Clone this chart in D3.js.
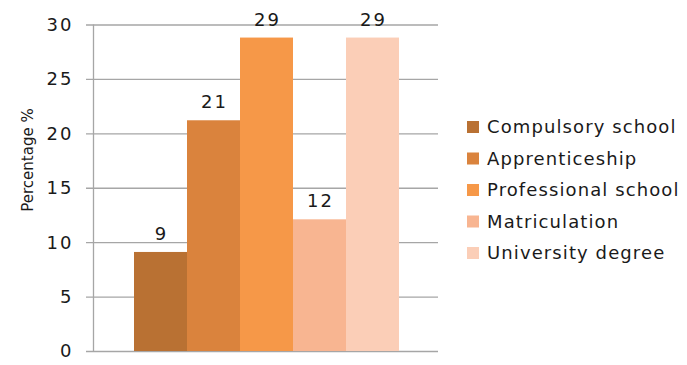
<!DOCTYPE html>
<html>
<head>
<meta charset="utf-8">
<script src="https://cdn.jsdelivr.net/npm/d3@7"></script>
<style>
  body { margin: 0; background: #fff; }
  text { font-family: "Century Gothic", "DejaVu Sans", sans-serif; fill: #1a1a1a; }
</style>
</head>
<body>
<div id="chart"></div>
<script>
// data
var categories = ["Compulsory school", "Apprenticeship", "Professional school", "Matriculation", "University degree"];
var values = [9.1, 21.2, 28.8, 12.1, 28.8];
var labels = ["9", "21", "29", "12", "29"];
var colors = ["#B97133", "#DA833D", "#F69848", "#F8B591", "#FBCEB7"];
var yTicks = [0, 5, 10, 15, 20, 25, 30];

// set the dimensions and margins of the graph
var margin = { top: 24.5, right: 249, bottom: 14, left: 93.5 },
    width = 687 - margin.left - margin.right,
    height = 365 - margin.top - margin.bottom;

var svg = d3.select("#chart")
    .append("svg")
    .attr("width", 687)
    .attr("height", 365)
    .append("g")
    .attr("transform", "translate(" + margin.left + "," + margin.top + ")");

// scales
var x = d3.scaleBand()
    .domain(categories)
    .range([40.5, width - 39])
    .padding(0);

var y = d3.scaleLinear()
    .domain([0, 30])
    .range([height, 0]);

// gridlines (they also stick out left like tick marks)
svg.append("g")
    .attr("class", "grid")
    .call(d3.axisLeft(y)
        .tickValues(yTicks)
        .tickSize(-width - 7.5)
        .tickFormat("")
    )
    .attr("transform", "translate(-7.5,0)")
    .call(function (g) { g.select(".domain").remove(); })
    .selectAll("line")
    .attr("stroke", "#a6a6a6")
    .attr("stroke-width", 1.3);

// bars
svg.selectAll(".bar")
    .data(values)
    .enter()
    .append("rect")
    .attr("x", function (d, i) { return x(categories[i]); })
    .attr("width", x.bandwidth())
    .attr("y", function (d) { return y(d); })
    .attr("height", function (d) { return height - y(d); })
    .attr("fill", function (d, i) { return colors[i]; });

// y axis line
svg.append("line")
    .attr("x1", 0).attr("x2", 0)
    .attr("y1", 0).attr("y2", height)
    .attr("stroke", "#a6a6a6")
    .attr("stroke-width", 1.3);

// tick labels (wide letters, like the original font)
svg.selectAll(".ytick")
    .data(yTicks)
    .enter()
    .append("text")
    .attr("x", -20)
    .attr("y", function (d) { return y(d); })
    .attr("dy", "0.36em")
    .attr("text-anchor", "end")
    .style("font-size", "18px")
    .style("letter-spacing", "2px")
    .text(function (d) { return d; });

// y axis title
svg.append("text")
    .attr("transform", "rotate(-90)")
    .attr("x", -(160 - margin.top))
    .attr("y", -61)
    .attr("text-anchor", "middle")
    .style("font-size", "15px")
    .text("Percentage %");

// value labels
svg.selectAll(".vlabel")
    .data(values)
    .enter()
    .append("text")
    .attr("x", function (d, i) { return x(categories[i]) + x.bandwidth() / 2 + 1; })
    .attr("y", function (d) { return y(d) - 12; })
    .attr("text-anchor", "middle")
    .style("font-size", "18px")
    .style("letter-spacing", "2px")
    .text(function (d, i) { return labels[i]; });

// legend
var legend = svg.selectAll(".legend")
    .data(categories)
    .enter()
    .append("g")
    .attr("transform", function (d, i) { return "translate(" + (467 - margin.left) + "," + (127 - margin.top + i * 31.5) + ")"; });

legend.append("rect")
    .attr("x", 0)
    .attr("y", -6)
    .attr("width", 12)
    .attr("height", 12)
    .attr("fill", function (d, i) { return colors[i]; });

legend.append("text")
    .attr("x", 20)
    .attr("dy", "0.35em")
    .style("font-size", "18px")
    .style("letter-spacing", "1.1px")
    .text(function (d) { return d; });
</script>
</body>
</html>
